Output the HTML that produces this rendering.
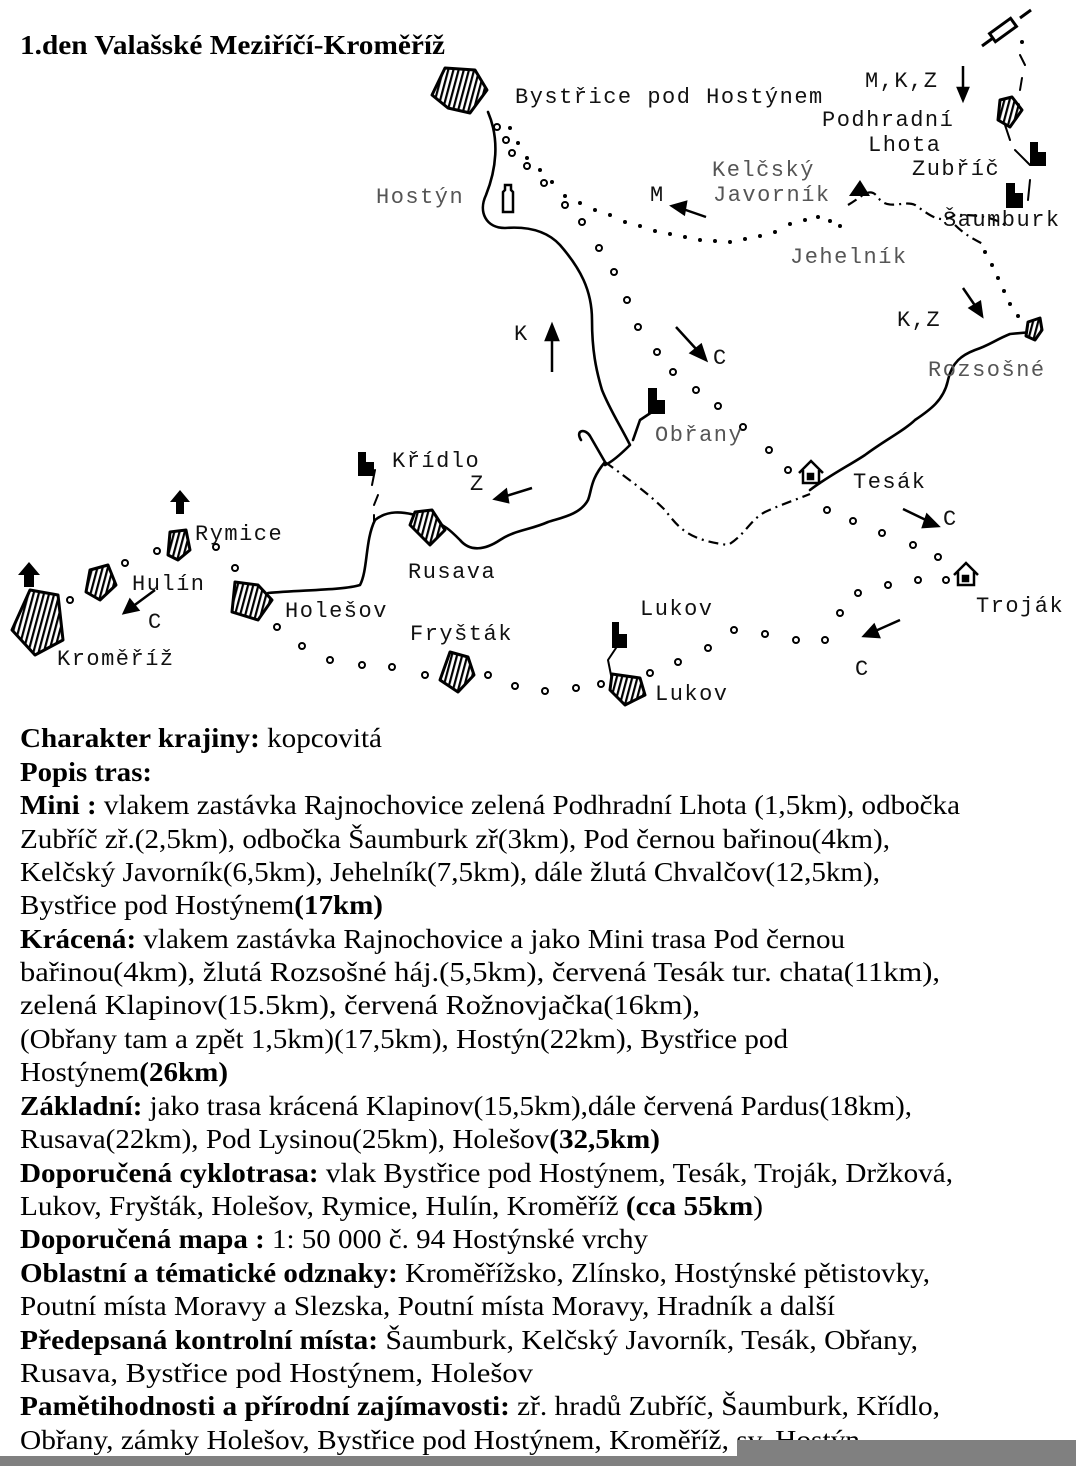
<!DOCTYPE html>
<html><head><meta charset="utf-8"><style>
html,body{margin:0;padding:0;background:#fff;}
svg{display:block}
.m{font-family:"Liberation Mono",monospace;font-size:22px;fill:#111;letter-spacing:1.5px}
.g{fill:#555}
.t{font-family:"Liberation Serif",serif;font-size:27px;fill:#000}
.b{font-weight:bold}
</style></head><body>
<svg width="1076" height="1466" viewBox="0 0 1076 1466" xmlns="http://www.w3.org/2000/svg">
<defs>
<pattern id="h" width="5" height="5" patternUnits="userSpaceOnUse" patternTransform="rotate(15)">
<rect width="5" height="5" fill="#fff"/><rect width="2.2" height="5" fill="#000"/></pattern>
</defs>
<text x="20" y="54" font-family="Liberation Serif,serif" font-weight="bold" font-size="27" textLength="425" lengthAdjust="spacingAndGlyphs">1.den Valašské Meziříčí-Kroměříž</text>

<g fill="none" stroke="#000" stroke-width="2.6" stroke-linejoin="round" stroke-linecap="round">
<path d="M488,112 C500,140 496,170 486,195 C478,212 486,228 505,228 C530,226 548,232 560,245 C580,268 592,290 592,320 C592,350 596,370 602,390 C610,410 620,425 630,445 C620,455 612,462 605,465 M581,440 C575,430 585,428 590,436 L605,462 C590,480 592,490 588,500 C580,515 560,518 548,522 C530,530 515,530 500,540 C485,550 470,552 460,540 C450,530 445,525 430,520 C400,508 385,512 375,520 C365,540 368,570 360,585 C345,590 300,590 268,593"/>
<path d="M633,440 L640,420 L655,410"/>
<path d="M810,490 C830,475 850,465 865,455 C885,440 905,430 915,420 C930,410 944,400 948,380 C952,362 962,355 975,350 C990,345 995,340 1010,334 L1032,332"/>
<path d="M375,470 L372,485 M378,495 L374,505 M374,515 L374,522" stroke-width="2"/>
<path d="M618,645 L608,660 L612,680 L622,685" stroke-width="2"/>
<path d="M1020,55 L1025,65 M1022,78 L1020,90 M1005,125 L1010,140 M1015,150 L1030,165 M1030,180 L1028,200" stroke-width="2"/>
</g>

<g fill="none" stroke="#000" stroke-width="2.2" stroke-dasharray="10,5,2,5">
<path d="M605,462 C630,480 650,495 665,510 C680,530 690,540 728,545 C745,535 750,520 765,512 C780,505 795,500 810,494"/>
<path d="M848,205 C865,195 870,185 880,200 C890,210 905,200 915,205 C930,215 940,225 955,215 C970,215 990,215 1005,225 M955,225 C965,235 975,240 985,245"/>
</g>

<g fill="#000">
<circle cx="510" cy="128" r="2"/><circle cx="518" cy="143" r="2"/><circle cx="527" cy="158" r="2"/><circle cx="540" cy="170" r="2"/><circle cx="552" cy="182" r="2"/><circle cx="565" cy="196" r="2"/><circle cx="580" cy="203" r="2"/><circle cx="595" cy="210" r="2"/><circle cx="610" cy="215" r="2"/><circle cx="625" cy="222" r="2"/><circle cx="640" cy="226" r="2"/><circle cx="655" cy="231" r="2"/><circle cx="670" cy="234" r="2"/><circle cx="685" cy="237" r="2"/><circle cx="700" cy="240" r="2"/><circle cx="715" cy="241" r="2"/><circle cx="730" cy="242" r="2"/><circle cx="745" cy="239" r="2"/><circle cx="760" cy="236" r="2"/><circle cx="775" cy="232" r="2"/><circle cx="790" cy="224" r="2"/><circle cx="805" cy="220" r="2"/><circle cx="818" cy="217" r="2"/><circle cx="830" cy="221" r="2"/><circle cx="840" cy="226" r="2"/>
<circle cx="985" cy="252" r="2"/><circle cx="992" cy="265" r="2"/><circle cx="998" cy="278" r="2"/><circle cx="1004" cy="291" r="2"/><circle cx="1010" cy="304" r="2"/><circle cx="1018" cy="316" r="2"/>
<circle cx="1022" cy="42" r="2"/><circle cx="1018" cy="105" r="2"/>
</g>

<g fill="none" stroke="#000" stroke-width="2">
<circle cx="497" cy="127" r="3"/><circle cx="506" cy="140" r="3"/><circle cx="512" cy="153" r="3"/><circle cx="527" cy="166" r="3"/><circle cx="544" cy="183" r="3"/><circle cx="565" cy="205" r="3"/><circle cx="582" cy="222" r="3"/><circle cx="599" cy="248" r="3"/><circle cx="614" cy="272" r="3"/><circle cx="627" cy="300" r="3"/><circle cx="638" cy="327" r="3"/><circle cx="657" cy="352" r="3"/><circle cx="673" cy="372" r="3"/><circle cx="696" cy="390" r="3"/><circle cx="718" cy="406" r="3"/><circle cx="743" cy="427" r="3"/><circle cx="769" cy="450" r="3"/><circle cx="788" cy="470" r="3"/>
<circle cx="827" cy="510" r="3"/><circle cx="853" cy="521" r="3"/><circle cx="882" cy="533" r="3"/><circle cx="913" cy="545" r="3"/><circle cx="938" cy="557" r="3"/><circle cx="946" cy="580" r="3"/><circle cx="918" cy="580" r="3"/><circle cx="888" cy="585" r="3"/><circle cx="858" cy="593" r="3"/><circle cx="840" cy="613" r="3"/><circle cx="825" cy="640" r="3"/><circle cx="796" cy="640" r="3"/><circle cx="765" cy="634" r="3"/><circle cx="734" cy="630" r="3"/><circle cx="708" cy="648" r="3"/><circle cx="678" cy="662" r="3"/><circle cx="650" cy="673" r="3"/><circle cx="601" cy="684" r="3"/><circle cx="576" cy="688" r="3"/><circle cx="545" cy="691" r="3"/><circle cx="515" cy="686" r="3"/><circle cx="488" cy="675" r="3"/><circle cx="425" cy="675" r="3"/><circle cx="392" cy="667" r="3"/><circle cx="362" cy="665" r="3"/><circle cx="330" cy="660" r="3"/><circle cx="302" cy="646" r="3"/><circle cx="277" cy="627" r="3"/><circle cx="235" cy="568" r="3"/><circle cx="216" cy="547" r="3"/><circle cx="157" cy="551" r="3"/><circle cx="125" cy="563" r="3"/><circle cx="70" cy="600" r="3"/>
</g>

<g stroke="#000" stroke-width="3" fill="url(#h)" stroke-linejoin="round">
<polygon points="445,68 475,70 487,90 470,113 448,108 432,95"/>
<polygon points="1000,100 1012,97 1022,110 1010,127 998,120"/>
<polygon points="1028,322 1040,318 1042,330 1035,340 1026,336"/>
<polygon points="170,532 186,530 190,550 178,560 168,555"/>
<polygon points="90,570 108,565 116,585 100,600 86,592"/>
<polygon points="30,590 58,595 63,640 35,655 12,630"/>
<polygon points="235,582 258,585 272,600 258,620 232,612"/>
<polygon points="415,512 432,510 445,530 430,545 410,525"/>
<polygon points="450,652 468,657 474,675 458,692 440,680"/>
<polygon points="612,674 640,678 645,695 625,705 610,690"/>
</g>

<g fill="#000">
<path d="M358,452h8v10h8v14h-16z"/>
<path d="M648,388h9v12h8v14h-17z"/>
<path d="M612,622h7v12h8v14h-15z"/>
<path d="M1030,142h8v10h8v14h-16z"/>
<path d="M1006,183h9v10h8v15h-17z"/>
<polygon points="849,196 860,180 870,196"/>
<path d="M505,185h6v5l2,2v20h-10v-20l2,-2z" fill="none" stroke="#000" stroke-width="2.5"/>
<polygon points="170,502 180,490 190,502 184,502 184,514 176,514 176,502"/>
<polygon points="18,575 29,562 40,575 34,575 34,587 24,587 24,575"/>
</g>
<g fill="none" stroke="#000" stroke-width="2.5">
<path d="M799,473l12,-12l12,12M803,470v13h16v-13"/><rect x="808" y="474" width="5" height="5" fill="#000"/>
<path d="M954,575l12,-12l12,12M958,572v13h16v-13"/><rect x="963" y="576" width="5" height="5" fill="#000"/>
</g>
<g stroke="#000" stroke-width="3" fill="none">
<path d="M982,46L993,38M1020,18L1031,10"/>
<rect x="990" y="25" width="26" height="10" transform="rotate(-36 1003 30)" fill="#fff"/>
</g>

<g stroke="#000" stroke-width="2.5" fill="#000">
<path d="M963,66V94"/><polygon points="958,88 968,88 963,100"/>
<path d="M706,217L680,208"/><polygon points="686,202 684,214 672,206"/>
<path d="M552,372V335"/><polygon points="546,340 558,340 552,325"/>
<path d="M676,327L697,350"/><polygon points="691,353 701,345 706,360"/>
<path d="M963,288L976,307"/><polygon points="970,308 980,302 982,316"/>
<path d="M532,488L503,497"/><polygon points="506,490 508,502 495,499"/>
<path d="M903,509L930,522"/><polygon points="927,515 923,527 938,526"/>
<path d="M155,590L132,607"/><polygon points="130,600 138,610 124,613"/>
<path d="M900,620L873,632"/><polygon points="874,625 879,637 864,636"/>
</g>

<g class="m">
<text x="515" y="103">Bystřice pod Hostýnem</text>
<text x="865" y="87">M,K,Z</text>
<text x="822" y="126">Podhradní</text>
<text x="868" y="151">Lhota</text>
<text x="912" y="175">Zubříč</text>
<text x="712" y="176" class="m g">Kelčský</text>
<text x="713" y="201" class="m g">Javorník</text>
<text x="376" y="203" class="m g">Hostýn</text>
<text x="650" y="201">M</text>
<text x="943" y="226">Šaumburk</text>
<text x="790" y="263" class="m g">Jehelník</text>
<text x="897" y="326">K,Z</text>
<text x="928" y="376" class="m g">Rozsošné</text>
<text x="514" y="340">K</text>
<text x="713" y="364">C</text>
<text x="655" y="441" class="m g">Obřany</text>
<text x="392" y="467">Křídlo</text>
<text x="470" y="490">Z</text>
<text x="853" y="488">Tesák</text>
<text x="943" y="525">C</text>
<text x="195" y="540">Rymice</text>
<text x="408" y="578">Rusava</text>
<text x="132" y="590">Hulín</text>
<text x="285" y="617">Holešov</text>
<text x="976" y="612">Troják</text>
<text x="148" y="628">C</text>
<text x="640" y="615">Lukov</text>
<text x="410" y="640">Fryšták</text>
<text x="57" y="665">Kroměříž</text>
<text x="855" y="675">C</text>
<text x="655" y="700">Lukov</text>
</g>

<g class="t">
<text x="20" y="747" textLength="362" lengthAdjust="spacingAndGlyphs"><tspan class="b">Charakter krajiny:</tspan> kopcovitá</text>
<text x="20" y="781" textLength="132" lengthAdjust="spacingAndGlyphs" class="t b">Popis tras:</text>
<text x="20" y="814" textLength="940" lengthAdjust="spacingAndGlyphs"><tspan class="b">Mini :</tspan> vlakem zastávka Rajnochovice zelená Podhradní Lhota (1,5km), odbočka</text>
<text x="20" y="848" textLength="870" lengthAdjust="spacingAndGlyphs">Zubříč zř.(2,5km), odbočka Šaumburk zř(3km), Pod černou bařinou(4km),</text>
<text x="20" y="881" textLength="860" lengthAdjust="spacingAndGlyphs">Kelčský Javorník(6,5km), Jehelník(7,5km), dále žlutá Chvalčov(12,5km),</text>
<text x="20" y="914" textLength="363" lengthAdjust="spacingAndGlyphs">Bystřice pod Hostýnem<tspan class="b">(17km)</tspan></text>
<text x="20" y="948" textLength="825" lengthAdjust="spacingAndGlyphs"><tspan class="b">Krácená:</tspan> vlakem zastávka Rajnochovice a jako Mini trasa Pod černou</text>
<text x="20" y="981" textLength="920" lengthAdjust="spacingAndGlyphs">bařinou(4km), žlutá Rozsošné háj.(5,5km), červená Tesák tur. chata(11km),</text>
<text x="20" y="1014" textLength="680" lengthAdjust="spacingAndGlyphs">zelená Klapinov(15.5km), červená Rožnovjačka(16km),</text>
<text x="20" y="1048" textLength="768" lengthAdjust="spacingAndGlyphs">(Obřany tam a zpět 1,5km)(17,5km), Hostýn(22km), Bystřice pod</text>
<text x="20" y="1081" textLength="208" lengthAdjust="spacingAndGlyphs">Hostýnem<tspan class="b">(26km)</tspan></text>
<text x="20" y="1115" textLength="892" lengthAdjust="spacingAndGlyphs"><tspan class="b">Základní:</tspan> jako trasa krácená Klapinov(15,5km),dále červená Pardus(18km),</text>
<text x="20" y="1148" textLength="640" lengthAdjust="spacingAndGlyphs">Rusava(22km), Pod Lysinou(25km), Holešov<tspan class="b">(32,5km)</tspan></text>
<text x="20" y="1182" textLength="933" lengthAdjust="spacingAndGlyphs"><tspan class="b">Doporučená cyklotrasa:</tspan> vlak Bystřice pod Hostýnem, Tesák, Troják, Držková,</text>
<text x="20" y="1215" textLength="743" lengthAdjust="spacingAndGlyphs">Lukov, Fryšták, Holešov, Rymice, Hulín, Kroměříž <tspan class="b">(cca 55km</tspan>)</text>
<text x="20" y="1248" textLength="628" lengthAdjust="spacingAndGlyphs"><tspan class="b">Doporučená mapa :</tspan> 1: 50 000 č. 94 Hostýnské vrchy</text>
<text x="20" y="1282" textLength="910" lengthAdjust="spacingAndGlyphs"><tspan class="b">Oblastní a tématické odznaky:</tspan> Kroměřížsko, Zlínsko, Hostýnské pětistovky,</text>
<text x="20" y="1315" textLength="815" lengthAdjust="spacingAndGlyphs">Poutní místa Moravy a Slezska, Poutní místa Moravy, Hradník a další</text>
<text x="20" y="1349" textLength="898" lengthAdjust="spacingAndGlyphs"><tspan class="b">Předepsaná kontrolní místa:</tspan> Šaumburk, Kelčský Javorník, Tesák,  Obřany,</text>
<text x="20" y="1382" textLength="513" lengthAdjust="spacingAndGlyphs">Rusava, Bystřice pod Hostýnem, Holešov</text>
<text x="20" y="1415" textLength="920" lengthAdjust="spacingAndGlyphs"><tspan class="b">Pamětihodnosti a přírodní zajímavosti:</tspan>  zř. hradů Zubříč, Šaumburk, Křídlo,</text>
<text x="20" y="1449" textLength="840" lengthAdjust="spacingAndGlyphs">Obřany, zámky Holešov, Bystřice pod Hostýnem, Kroměříž, sv. Hostýn</text>
</g>
<rect x="737" y="1440" width="339" height="26" fill="#808080"/>
<rect x="0" y="1456" width="1076" height="10" fill="#808080"/>
</svg>
</body></html>
